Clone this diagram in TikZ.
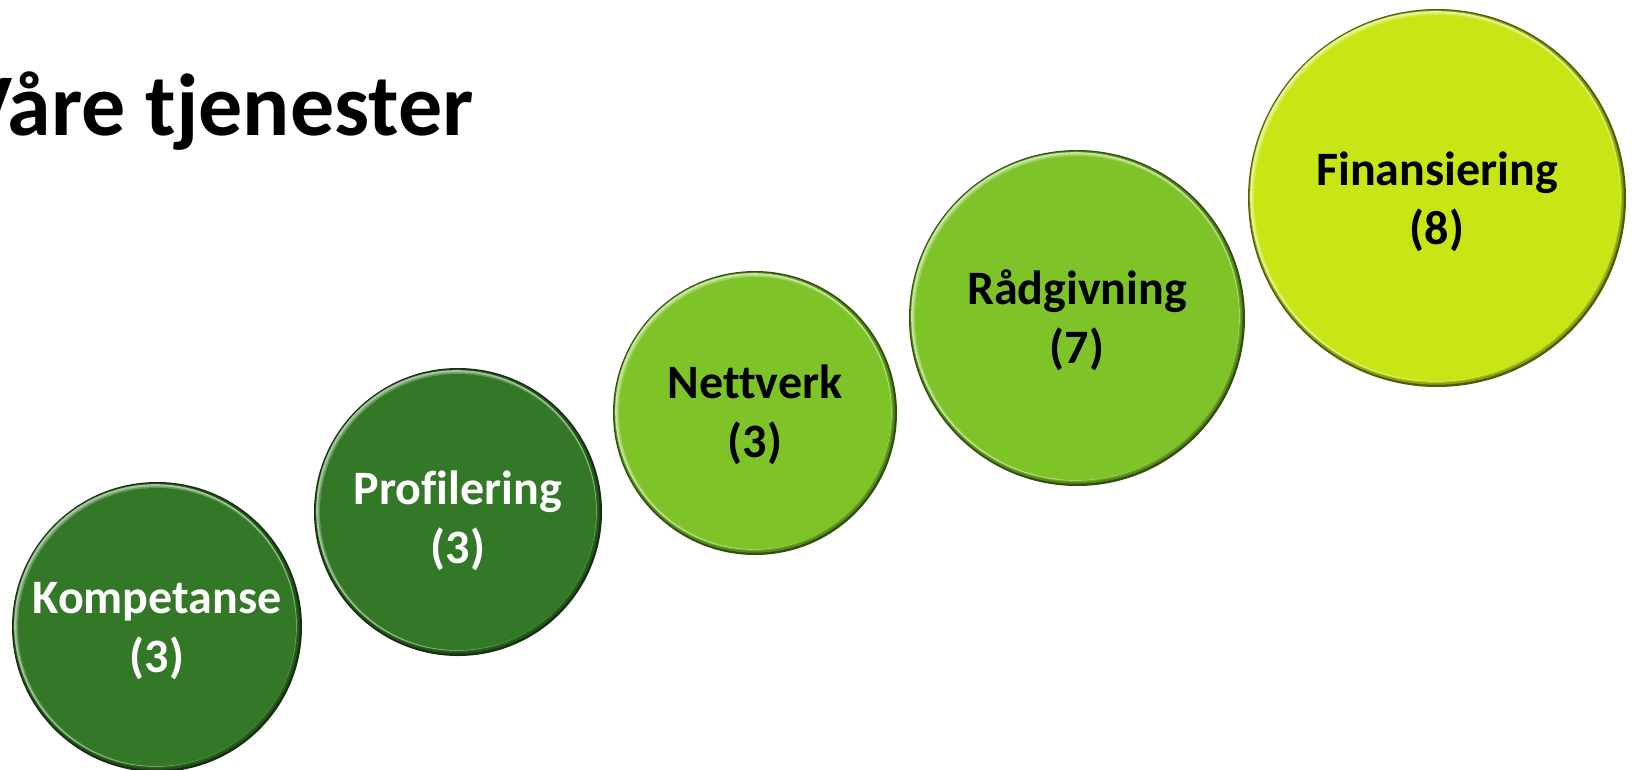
\documentclass[tikz,border=0pt]{standalone}
\usepackage{fontspec}
\setmainfont{Carlito}[Ligatures={NoCommon}]
\definecolor{dkgreen}{RGB}{51,120,38}
\definecolor{mdgreen}{RGB}{126,196,40}
\definecolor{ylgreen}{RGB}{200,230,22}
\tikzset{
  lbl/.style={font=\fontsize{48}{59}\selectfont\bfseries, align=center, circle, inner sep=0pt},
  ttl/.style={font=\fontsize{88}{106}\selectfont\bfseries, anchor=base east, inner sep=0pt},
}
\newcommand\bubble[8]{% name, x, y, r, color, textcolor, text, text shift
  \coordinate (#1c) at (#2,#3);
  \fill[#5!40!black] (#1c) circle[radius=#4pt];
  \fill[#5!70!black] ([shift={(-0.53pt,0.53pt)}]#1c) circle[radius=#4pt-1.75pt];
  \fill[#5!85!black] ([shift={(-0.88pt,0.88pt)}]#1c) circle[radius=#4pt-3.25pt];
  \fill[#5!45!white] ([shift={(-1.6pt,1.6pt)}]#1c) circle[radius=#4pt-3.75pt];
  \fill[#5!75!white] ([shift={(-0.71pt,0.71pt)}]#1c) circle[radius=#4pt-5pt];
  \fill[#5] (#1c) circle[radius=#4pt-6pt];
  \node[lbl, text=#6, minimum size=2*#4pt, yshift=#8] (#1) at (#1c) {#7};
}
\begin{document}
\begin{tikzpicture}[x=1pt,y=-1pt]
\useasboundingbox (0,0) rectangle (1633,769);
\node[ttl] (title) at (474,135) {Våre tjenester};
\bubble{komp}{157}{627}{145}{dkgreen}{white}{Kompetanse\\(3)}{-4pt}
\bubble{prof}{458}{512}{144}{dkgreen}{white}{Profilering\\(3)}{-9pt}
\bubble{nett}{755}{413}{142}{mdgreen}{black}{Nettverk\\(3)}{-2pt}
\bubble{raad}{1077}{318}{168}{mdgreen}{black}{Rådgivning\\(7)}{-2pt}
\bubble{fin}{1437}{198}{189}{ylgreen}{black}{Finansiering\\(8)}{-4pt}
\end{tikzpicture}
\end{document}
